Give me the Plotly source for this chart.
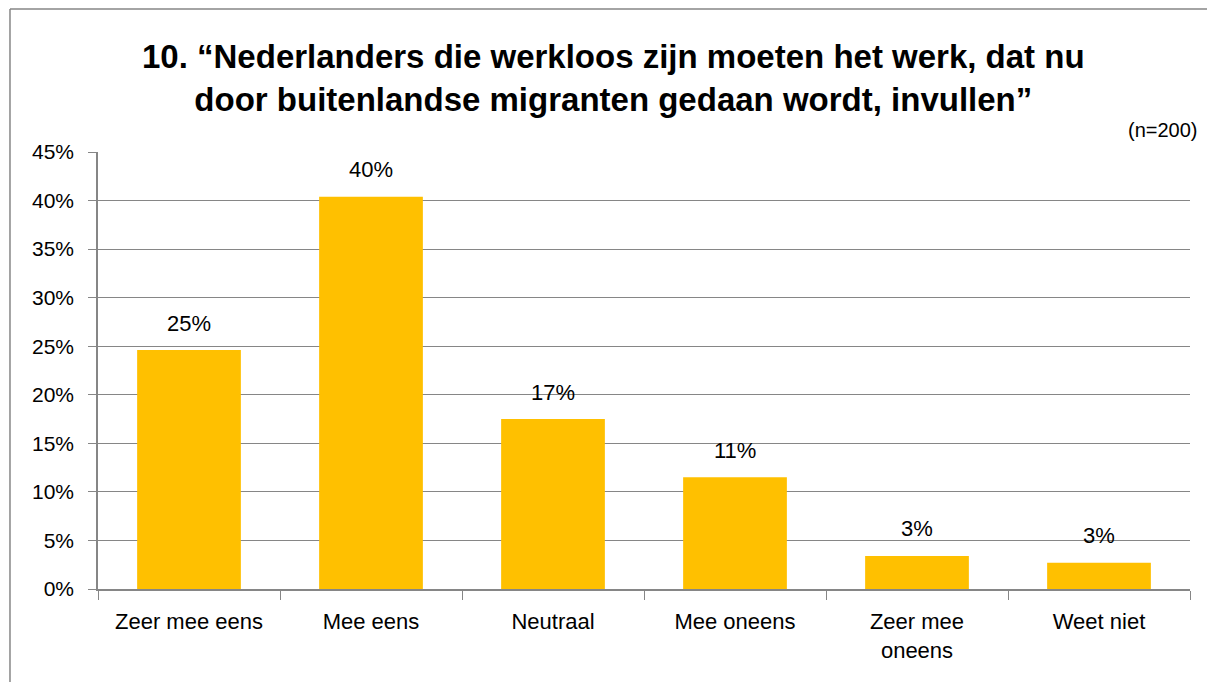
import plotly.graph_objects as go

categories = ["Zeer mee eens", "Mee eens", "Neutraal", "Mee oneens", "Zeer mee<br>oneens", "Weet niet"]
values = [0.246, 0.404, 0.175, 0.115, 0.034, 0.027]
labels = ["25%", "40%", "17%", "11%", "3%", "3%"]
y_ticks = [0, 0.05, 0.10, 0.15, 0.20, 0.25, 0.30, 0.35, 0.40, 0.45]
y_tick_labels = ["0%", "5%", "10%", "15%", "20%", "25%", "30%", "35%", "40%", "45%"]

FONT = "Liberation Sans, Arial"
GRID = "#868686"

fig = go.Figure()
fig.add_trace(go.Bar(
    x=categories, y=values,
    marker=dict(color="#FFC000", line=dict(width=0)),
    hoverinfo="skip",
))

for c, v, t in zip(categories, values, labels):
    fig.add_annotation(x=c, y=v, text=t, showarrow=False,
                       yanchor="middle", yshift=27,
                       font=dict(family=FONT, size=22, color="#000000"))

fig.add_annotation(xref="paper", yref="paper", x=0.4725, y=1.0, yshift=74,
                   text="<b>10. “Nederlanders die werkloos zijn moeten het werk, dat nu<br>door buitenlandse migranten gedaan wordt, invullen”</b>",
                   showarrow=False, xanchor="center", yanchor="middle",
                   font=dict(family=FONT, size=33, color="#000000"))
fig.add_annotation(xref="paper", yref="paper", x=1.0, y=1.0, yshift=22, xshift=10,
                   text="(n=200)", showarrow=False, xanchor="right", yanchor="middle",
                   font=dict(family=FONT, size=20, color="#000000"))

# chart frame: left and top edges visible in the reference
fig.add_shape(type="line", xref="paper", yref="paper",
              x0=-0.0806, x1=-0.0806, y0=-0.3, y1=1.3272,
              line=dict(color="#868686", width=1.5), layer="below")
fig.add_shape(type="line", xref="paper", yref="paper",
              x0=-0.0806, x1=1.06, y0=1.3272, y1=1.3272,
              line=dict(color="#868686", width=1.5), layer="below")

fig.update_layout(
    width=1215, height=682,
    margin=dict(l=90, r=33, t=144, b=101),
    paper_bgcolor="white", plot_bgcolor="white",
    bargap=0.43,
    showlegend=False,
    font=dict(family=FONT, size=21, color="#000000"),
    xaxis=dict(
        type="category", tickson="boundaries", ticks="outside", ticklen=9,
        tickcolor=GRID, showline=True, linecolor=GRID, linewidth=1.5,
        showgrid=False, tickfont=dict(family=FONT, size=22),
        ticklabelstandoff=12,
    ),
    yaxis=dict(
        range=[0, 0.45], tickvals=y_ticks, ticktext=y_tick_labels,
        ticks="outside", ticklen=8, tickcolor=GRID,
        showline=True, linecolor=GRID, linewidth=1.5,
        showgrid=True, gridcolor=GRID, gridwidth=1.3,
        zeroline=False, tickfont=dict(family=FONT, size=21),
        ticklabelstandoff=10,
    ),
)

fig.write_html("out.html")
